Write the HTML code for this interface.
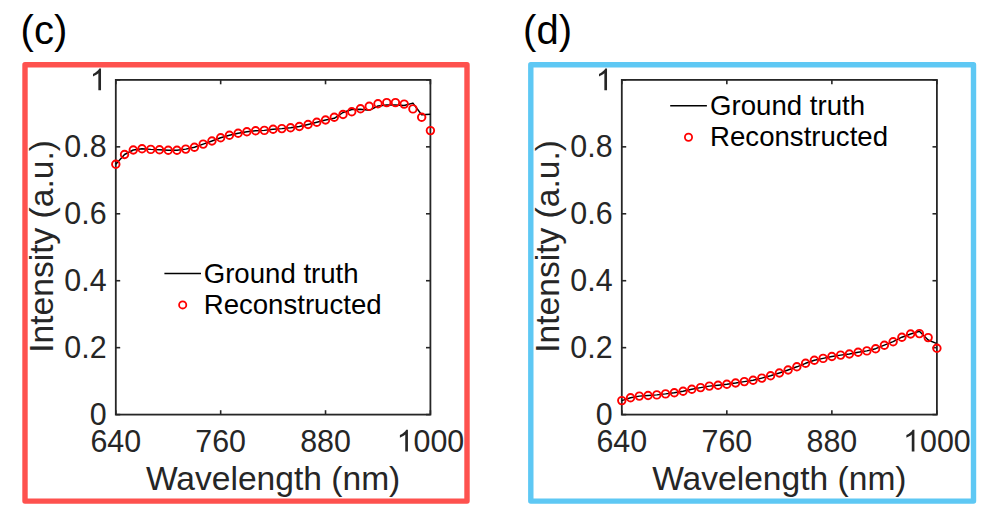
<!DOCTYPE html>
<html><head><meta charset="utf-8"><style>
html,body{margin:0;padding:0;background:#fff;}
body{width:990px;height:515px;overflow:hidden;}
svg{display:block;font-family:"Liberation Sans",sans-serif;}
</style></head><body>
<svg width="990" height="515" viewBox="0 0 990 515">
<rect width="990" height="515" fill="#fff"/>
<rect x="25.00" y="64.70" width="442.00" height="436.40" fill="none" stroke="#fe514e" stroke-width="5.4" stroke-linejoin="round"/>
<text transform="translate(20.60,43.50)" font-size="40" text-anchor="start" fill="#000">(c)</text>
<text transform="translate(115.80,451.50) scale(1,1.04)" font-size="30.4" text-anchor="middle" fill="#262626">640</text>
<text transform="translate(220.67,451.50) scale(1,1.04)" font-size="30.4" text-anchor="middle" fill="#262626">760</text>
<text transform="translate(325.53,451.50) scale(1,1.04)" font-size="30.4" text-anchor="middle" fill="#262626">880</text>
<path transform="translate(396.60,451.50) scale(0.014844,-0.014844)" d="M763 0H583V1147Q518 1085 412 1023Q306 961 222 930V1104Q373 1175 486 1276Q599 1377 646 1472H763Z" fill="#262626"/><text transform="translate(413.50,451.50) scale(1,1.04)" font-size="30.4" text-anchor="start" fill="#262626">000</text>
<text transform="translate(106.60,425.00) scale(1,1.04)" font-size="30.4" text-anchor="end" fill="#262626">0</text>
<text transform="translate(106.60,358.06) scale(1,1.04)" font-size="30.4" text-anchor="end" fill="#262626">0.2</text>
<text transform="translate(106.60,291.12) scale(1,1.04)" font-size="30.4" text-anchor="end" fill="#262626">0.4</text>
<text transform="translate(106.60,224.18) scale(1,1.04)" font-size="30.4" text-anchor="end" fill="#262626">0.6</text>
<text transform="translate(106.60,157.24) scale(1,1.04)" font-size="30.4" text-anchor="end" fill="#262626">0.8</text>
<path transform="translate(89.70,90.30) scale(0.014844,-0.014844)" d="M763 0H583V1147Q518 1085 412 1023Q306 961 222 930V1104Q373 1175 486 1276Q599 1377 646 1472H763Z" fill="#262626"/>
<rect x="115.80" y="79.90" width="314.60" height="334.70" fill="none" stroke="#262626" stroke-width="1.8"/>
<line x1="115.80" y1="414.60" x2="115.80" y2="410.20" stroke="#262626" stroke-width="1.6"/>
<line x1="115.80" y1="79.90" x2="115.80" y2="84.30" stroke="#262626" stroke-width="1.6"/>
<line x1="220.67" y1="414.60" x2="220.67" y2="410.20" stroke="#262626" stroke-width="1.6"/>
<line x1="220.67" y1="79.90" x2="220.67" y2="84.30" stroke="#262626" stroke-width="1.6"/>
<line x1="325.53" y1="414.60" x2="325.53" y2="410.20" stroke="#262626" stroke-width="1.6"/>
<line x1="325.53" y1="79.90" x2="325.53" y2="84.30" stroke="#262626" stroke-width="1.6"/>
<line x1="430.40" y1="414.60" x2="430.40" y2="410.20" stroke="#262626" stroke-width="1.6"/>
<line x1="430.40" y1="79.90" x2="430.40" y2="84.30" stroke="#262626" stroke-width="1.6"/>
<line x1="115.80" y1="414.60" x2="120.20" y2="414.60" stroke="#262626" stroke-width="1.6"/>
<line x1="430.40" y1="414.60" x2="426.00" y2="414.60" stroke="#262626" stroke-width="1.6"/>
<line x1="115.80" y1="347.66" x2="120.20" y2="347.66" stroke="#262626" stroke-width="1.6"/>
<line x1="430.40" y1="347.66" x2="426.00" y2="347.66" stroke="#262626" stroke-width="1.6"/>
<line x1="115.80" y1="280.72" x2="120.20" y2="280.72" stroke="#262626" stroke-width="1.6"/>
<line x1="430.40" y1="280.72" x2="426.00" y2="280.72" stroke="#262626" stroke-width="1.6"/>
<line x1="115.80" y1="213.78" x2="120.20" y2="213.78" stroke="#262626" stroke-width="1.6"/>
<line x1="430.40" y1="213.78" x2="426.00" y2="213.78" stroke="#262626" stroke-width="1.6"/>
<line x1="115.80" y1="146.84" x2="120.20" y2="146.84" stroke="#262626" stroke-width="1.6"/>
<line x1="430.40" y1="146.84" x2="426.00" y2="146.84" stroke="#262626" stroke-width="1.6"/>
<line x1="115.80" y1="79.90" x2="120.20" y2="79.90" stroke="#262626" stroke-width="1.6"/>
<line x1="430.40" y1="79.90" x2="426.00" y2="79.90" stroke="#262626" stroke-width="1.6"/>
<text transform="translate(273.10,490.00)" font-size="33.6" text-anchor="middle" fill="#262626">Wavelength (nm)</text>
<text transform="translate(53.00,246.40) rotate(-90)" font-size="33.6" text-anchor="middle" fill="#262626">Intensity (a.u.)</text>
<polyline points="115.80,164.20 124.54,154.50 133.28,150.00 142.02,148.70 150.76,149.40 159.49,149.80 168.23,150.30 176.97,150.30 185.71,149.10 194.45,147.20 203.19,144.10 211.93,141.00 220.67,137.80 229.41,135.30 238.14,133.20 246.88,131.70 255.62,130.70 264.36,130.40 273.10,129.20 281.84,128.60 290.58,127.80 299.32,126.50 308.06,124.50 316.79,122.30 325.53,120.00 334.27,118.30 343.01,112.50 351.75,109.50 360.49,109.20 369.23,110.30 377.97,106.00 386.71,105.00 395.44,105.00 404.18,105.50 412.92,103.10 421.66,114.80 430.40,114.30" fill="none" stroke="#000" stroke-width="1.45" stroke-linejoin="round"/>
<circle cx="115.80" cy="164.20" r="3.75" fill="none" stroke="#ff0000" stroke-width="1.9"/>
<circle cx="124.54" cy="154.50" r="3.75" fill="none" stroke="#ff0000" stroke-width="1.9"/>
<circle cx="133.28" cy="150.00" r="3.75" fill="none" stroke="#ff0000" stroke-width="1.9"/>
<circle cx="142.02" cy="148.70" r="3.75" fill="none" stroke="#ff0000" stroke-width="1.9"/>
<circle cx="150.76" cy="149.40" r="3.75" fill="none" stroke="#ff0000" stroke-width="1.9"/>
<circle cx="159.49" cy="149.80" r="3.75" fill="none" stroke="#ff0000" stroke-width="1.9"/>
<circle cx="168.23" cy="150.30" r="3.75" fill="none" stroke="#ff0000" stroke-width="1.9"/>
<circle cx="176.97" cy="150.30" r="3.75" fill="none" stroke="#ff0000" stroke-width="1.9"/>
<circle cx="185.71" cy="149.10" r="3.75" fill="none" stroke="#ff0000" stroke-width="1.9"/>
<circle cx="194.45" cy="147.20" r="3.75" fill="none" stroke="#ff0000" stroke-width="1.9"/>
<circle cx="203.19" cy="144.10" r="3.75" fill="none" stroke="#ff0000" stroke-width="1.9"/>
<circle cx="211.93" cy="141.00" r="3.75" fill="none" stroke="#ff0000" stroke-width="1.9"/>
<circle cx="220.67" cy="137.80" r="3.75" fill="none" stroke="#ff0000" stroke-width="1.9"/>
<circle cx="229.41" cy="135.30" r="3.75" fill="none" stroke="#ff0000" stroke-width="1.9"/>
<circle cx="238.14" cy="133.20" r="3.75" fill="none" stroke="#ff0000" stroke-width="1.9"/>
<circle cx="246.88" cy="131.70" r="3.75" fill="none" stroke="#ff0000" stroke-width="1.9"/>
<circle cx="255.62" cy="130.70" r="3.75" fill="none" stroke="#ff0000" stroke-width="1.9"/>
<circle cx="264.36" cy="130.40" r="3.75" fill="none" stroke="#ff0000" stroke-width="1.9"/>
<circle cx="273.10" cy="129.20" r="3.75" fill="none" stroke="#ff0000" stroke-width="1.9"/>
<circle cx="281.84" cy="128.60" r="3.75" fill="none" stroke="#ff0000" stroke-width="1.9"/>
<circle cx="290.58" cy="127.80" r="3.75" fill="none" stroke="#ff0000" stroke-width="1.9"/>
<circle cx="299.32" cy="126.50" r="3.75" fill="none" stroke="#ff0000" stroke-width="1.9"/>
<circle cx="308.06" cy="124.50" r="3.75" fill="none" stroke="#ff0000" stroke-width="1.9"/>
<circle cx="316.79" cy="122.30" r="3.75" fill="none" stroke="#ff0000" stroke-width="1.9"/>
<circle cx="325.53" cy="120.00" r="3.75" fill="none" stroke="#ff0000" stroke-width="1.9"/>
<circle cx="334.27" cy="117.30" r="3.75" fill="none" stroke="#ff0000" stroke-width="1.9"/>
<circle cx="343.01" cy="114.50" r="3.75" fill="none" stroke="#ff0000" stroke-width="1.9"/>
<circle cx="351.75" cy="111.70" r="3.75" fill="none" stroke="#ff0000" stroke-width="1.9"/>
<circle cx="360.49" cy="108.80" r="3.75" fill="none" stroke="#ff0000" stroke-width="1.9"/>
<circle cx="369.23" cy="106.30" r="3.75" fill="none" stroke="#ff0000" stroke-width="1.9"/>
<circle cx="377.97" cy="103.80" r="3.75" fill="none" stroke="#ff0000" stroke-width="1.9"/>
<circle cx="386.71" cy="102.60" r="3.75" fill="none" stroke="#ff0000" stroke-width="1.9"/>
<circle cx="395.44" cy="102.60" r="3.75" fill="none" stroke="#ff0000" stroke-width="1.9"/>
<circle cx="404.18" cy="104.10" r="3.75" fill="none" stroke="#ff0000" stroke-width="1.9"/>
<circle cx="412.92" cy="108.90" r="3.75" fill="none" stroke="#ff0000" stroke-width="1.9"/>
<circle cx="421.66" cy="117.20" r="3.75" fill="none" stroke="#ff0000" stroke-width="1.9"/>
<circle cx="430.40" cy="130.60" r="3.75" fill="none" stroke="#ff0000" stroke-width="1.9"/>
<line x1="164.4" y1="273.4" x2="201.0" y2="273.4" stroke="#000" stroke-width="1.5"/>
<text transform="translate(203.70,282.80)" font-size="27.6" text-anchor="start" fill="#000">Ground truth</text>
<circle cx="182.7" cy="304.9" r="3.6" fill="none" stroke="#ff0000" stroke-width="1.8"/>
<text transform="translate(203.70,314.40)" font-size="27.6" text-anchor="start" fill="#000">Reconstructed</text>
<rect x="530.80" y="64.70" width="442.70" height="436.40" fill="none" stroke="#5ec8f4" stroke-width="5.4" stroke-linejoin="round"/>
<text transform="translate(523.10,43.50)" font-size="40" text-anchor="start" fill="#000">(d)</text>
<text transform="translate(621.80,451.50) scale(1,1.04)" font-size="30.4" text-anchor="middle" fill="#262626">640</text>
<text transform="translate(726.83,451.50) scale(1,1.04)" font-size="30.4" text-anchor="middle" fill="#262626">760</text>
<text transform="translate(831.87,451.50) scale(1,1.04)" font-size="30.4" text-anchor="middle" fill="#262626">880</text>
<path transform="translate(903.10,451.50) scale(0.014844,-0.014844)" d="M763 0H583V1147Q518 1085 412 1023Q306 961 222 930V1104Q373 1175 486 1276Q599 1377 646 1472H763Z" fill="#262626"/><text transform="translate(920.00,451.50) scale(1,1.04)" font-size="30.4" text-anchor="start" fill="#262626">000</text>
<text transform="translate(612.60,425.00) scale(1,1.04)" font-size="30.4" text-anchor="end" fill="#262626">0</text>
<text transform="translate(612.60,358.06) scale(1,1.04)" font-size="30.4" text-anchor="end" fill="#262626">0.2</text>
<text transform="translate(612.60,291.12) scale(1,1.04)" font-size="30.4" text-anchor="end" fill="#262626">0.4</text>
<text transform="translate(612.60,224.18) scale(1,1.04)" font-size="30.4" text-anchor="end" fill="#262626">0.6</text>
<text transform="translate(612.60,157.24) scale(1,1.04)" font-size="30.4" text-anchor="end" fill="#262626">0.8</text>
<path transform="translate(595.70,90.30) scale(0.014844,-0.014844)" d="M763 0H583V1147Q518 1085 412 1023Q306 961 222 930V1104Q373 1175 486 1276Q599 1377 646 1472H763Z" fill="#262626"/>
<rect x="621.80" y="79.90" width="315.10" height="334.70" fill="none" stroke="#262626" stroke-width="1.8"/>
<line x1="621.80" y1="414.60" x2="621.80" y2="410.20" stroke="#262626" stroke-width="1.6"/>
<line x1="621.80" y1="79.90" x2="621.80" y2="84.30" stroke="#262626" stroke-width="1.6"/>
<line x1="726.83" y1="414.60" x2="726.83" y2="410.20" stroke="#262626" stroke-width="1.6"/>
<line x1="726.83" y1="79.90" x2="726.83" y2="84.30" stroke="#262626" stroke-width="1.6"/>
<line x1="831.87" y1="414.60" x2="831.87" y2="410.20" stroke="#262626" stroke-width="1.6"/>
<line x1="831.87" y1="79.90" x2="831.87" y2="84.30" stroke="#262626" stroke-width="1.6"/>
<line x1="936.90" y1="414.60" x2="936.90" y2="410.20" stroke="#262626" stroke-width="1.6"/>
<line x1="936.90" y1="79.90" x2="936.90" y2="84.30" stroke="#262626" stroke-width="1.6"/>
<line x1="621.80" y1="414.60" x2="626.20" y2="414.60" stroke="#262626" stroke-width="1.6"/>
<line x1="936.90" y1="414.60" x2="932.50" y2="414.60" stroke="#262626" stroke-width="1.6"/>
<line x1="621.80" y1="347.66" x2="626.20" y2="347.66" stroke="#262626" stroke-width="1.6"/>
<line x1="936.90" y1="347.66" x2="932.50" y2="347.66" stroke="#262626" stroke-width="1.6"/>
<line x1="621.80" y1="280.72" x2="626.20" y2="280.72" stroke="#262626" stroke-width="1.6"/>
<line x1="936.90" y1="280.72" x2="932.50" y2="280.72" stroke="#262626" stroke-width="1.6"/>
<line x1="621.80" y1="213.78" x2="626.20" y2="213.78" stroke="#262626" stroke-width="1.6"/>
<line x1="936.90" y1="213.78" x2="932.50" y2="213.78" stroke="#262626" stroke-width="1.6"/>
<line x1="621.80" y1="146.84" x2="626.20" y2="146.84" stroke="#262626" stroke-width="1.6"/>
<line x1="936.90" y1="146.84" x2="932.50" y2="146.84" stroke="#262626" stroke-width="1.6"/>
<line x1="621.80" y1="79.90" x2="626.20" y2="79.90" stroke="#262626" stroke-width="1.6"/>
<line x1="936.90" y1="79.90" x2="932.50" y2="79.90" stroke="#262626" stroke-width="1.6"/>
<text transform="translate(779.35,490.00)" font-size="33.6" text-anchor="middle" fill="#262626">Wavelength (nm)</text>
<text transform="translate(558.80,246.40) rotate(-90)" font-size="33.6" text-anchor="middle" fill="#262626">Intensity (a.u.)</text>
<polyline points="621.80,400.60 630.55,397.80 639.31,396.10 648.06,395.50 656.81,394.90 665.56,393.90 674.32,392.70 683.07,391.30 691.82,389.30 700.57,387.60 709.33,386.10 718.08,385.20 726.83,384.20 735.59,383.00 744.34,381.60 753.09,380.20 761.84,378.10 770.60,375.80 779.35,373.00 788.10,370.00 796.86,366.80 805.61,363.30 814.36,360.20 823.11,358.40 831.87,356.50 840.62,355.10 849.37,354.00 858.12,352.20 866.88,350.90 875.63,348.70 884.38,345.20 893.14,341.70 901.89,337.20 910.64,334.00 919.39,331.30 928.15,340.00 936.90,343.70" fill="none" stroke="#000" stroke-width="1.45" stroke-linejoin="round"/>
<circle cx="621.80" cy="400.60" r="3.75" fill="none" stroke="#ff0000" stroke-width="1.9"/>
<circle cx="630.55" cy="397.80" r="3.75" fill="none" stroke="#ff0000" stroke-width="1.9"/>
<circle cx="639.31" cy="396.10" r="3.75" fill="none" stroke="#ff0000" stroke-width="1.9"/>
<circle cx="648.06" cy="395.50" r="3.75" fill="none" stroke="#ff0000" stroke-width="1.9"/>
<circle cx="656.81" cy="394.90" r="3.75" fill="none" stroke="#ff0000" stroke-width="1.9"/>
<circle cx="665.56" cy="393.90" r="3.75" fill="none" stroke="#ff0000" stroke-width="1.9"/>
<circle cx="674.32" cy="392.70" r="3.75" fill="none" stroke="#ff0000" stroke-width="1.9"/>
<circle cx="683.07" cy="391.30" r="3.75" fill="none" stroke="#ff0000" stroke-width="1.9"/>
<circle cx="691.82" cy="389.30" r="3.75" fill="none" stroke="#ff0000" stroke-width="1.9"/>
<circle cx="700.57" cy="387.60" r="3.75" fill="none" stroke="#ff0000" stroke-width="1.9"/>
<circle cx="709.33" cy="386.10" r="3.75" fill="none" stroke="#ff0000" stroke-width="1.9"/>
<circle cx="718.08" cy="385.20" r="3.75" fill="none" stroke="#ff0000" stroke-width="1.9"/>
<circle cx="726.83" cy="384.20" r="3.75" fill="none" stroke="#ff0000" stroke-width="1.9"/>
<circle cx="735.59" cy="383.00" r="3.75" fill="none" stroke="#ff0000" stroke-width="1.9"/>
<circle cx="744.34" cy="381.60" r="3.75" fill="none" stroke="#ff0000" stroke-width="1.9"/>
<circle cx="753.09" cy="380.20" r="3.75" fill="none" stroke="#ff0000" stroke-width="1.9"/>
<circle cx="761.84" cy="378.10" r="3.75" fill="none" stroke="#ff0000" stroke-width="1.9"/>
<circle cx="770.60" cy="375.80" r="3.75" fill="none" stroke="#ff0000" stroke-width="1.9"/>
<circle cx="779.35" cy="373.00" r="3.75" fill="none" stroke="#ff0000" stroke-width="1.9"/>
<circle cx="788.10" cy="370.00" r="3.75" fill="none" stroke="#ff0000" stroke-width="1.9"/>
<circle cx="796.86" cy="366.80" r="3.75" fill="none" stroke="#ff0000" stroke-width="1.9"/>
<circle cx="805.61" cy="363.30" r="3.75" fill="none" stroke="#ff0000" stroke-width="1.9"/>
<circle cx="814.36" cy="360.20" r="3.75" fill="none" stroke="#ff0000" stroke-width="1.9"/>
<circle cx="823.11" cy="358.40" r="3.75" fill="none" stroke="#ff0000" stroke-width="1.9"/>
<circle cx="831.87" cy="356.50" r="3.75" fill="none" stroke="#ff0000" stroke-width="1.9"/>
<circle cx="840.62" cy="355.10" r="3.75" fill="none" stroke="#ff0000" stroke-width="1.9"/>
<circle cx="849.37" cy="354.00" r="3.75" fill="none" stroke="#ff0000" stroke-width="1.9"/>
<circle cx="858.12" cy="352.20" r="3.75" fill="none" stroke="#ff0000" stroke-width="1.9"/>
<circle cx="866.88" cy="350.90" r="3.75" fill="none" stroke="#ff0000" stroke-width="1.9"/>
<circle cx="875.63" cy="348.70" r="3.75" fill="none" stroke="#ff0000" stroke-width="1.9"/>
<circle cx="884.38" cy="345.20" r="3.75" fill="none" stroke="#ff0000" stroke-width="1.9"/>
<circle cx="893.14" cy="341.70" r="3.75" fill="none" stroke="#ff0000" stroke-width="1.9"/>
<circle cx="901.89" cy="337.20" r="3.75" fill="none" stroke="#ff0000" stroke-width="1.9"/>
<circle cx="910.64" cy="334.00" r="3.75" fill="none" stroke="#ff0000" stroke-width="1.9"/>
<circle cx="919.39" cy="333.60" r="3.75" fill="none" stroke="#ff0000" stroke-width="1.9"/>
<circle cx="928.15" cy="337.60" r="3.75" fill="none" stroke="#ff0000" stroke-width="1.9"/>
<circle cx="936.90" cy="348.30" r="3.75" fill="none" stroke="#ff0000" stroke-width="1.9"/>
<line x1="670.2" y1="105.8" x2="706.9" y2="105.8" stroke="#000" stroke-width="1.5"/>
<text transform="translate(710.10,115.40)" font-size="27.6" text-anchor="start" fill="#000">Ground truth</text>
<circle cx="688.5" cy="137.3" r="3.6" fill="none" stroke="#ff0000" stroke-width="1.8"/>
<text transform="translate(710.10,146.20)" font-size="27.6" text-anchor="start" fill="#000">Reconstructed</text>
</svg>
</body></html>
